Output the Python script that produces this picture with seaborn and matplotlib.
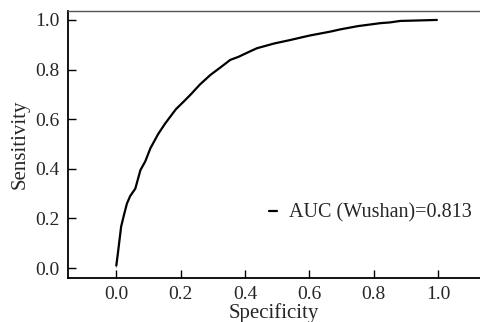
import matplotlib
matplotlib.use("Agg")
import matplotlib.pyplot as plt
import seaborn as sns
import pandas as pd

specificity = [0.0, 0.0, 0.005, 0.015, 0.025, 0.033, 0.043, 0.059, 0.075, 0.09, 0.106,
               0.13, 0.152, 0.185, 0.214, 0.23, 0.26, 0.292, 0.325, 0.354, 0.379, 0.41,
               0.437, 0.49, 0.54, 0.6, 0.665, 0.696, 0.75, 0.82, 0.85, 0.882, 0.94, 0.996]
sensitivity = [0.0, 0.02, 0.06, 0.167, 0.22, 0.26, 0.29, 0.32, 0.395, 0.43, 0.483,
               0.54, 0.583, 0.64, 0.677, 0.698, 0.74, 0.778, 0.81, 0.839, 0.851, 0.87,
               0.886, 0.905, 0.919, 0.937, 0.953, 0.962, 0.975, 0.987, 0.99, 0.996, 0.998, 1.0]
label = "AUC (Wushan)=0.813"

df = pd.DataFrame({"Specificity": specificity, "Sensitivity": sensitivity})

sns.set_style("white")
plt.rcParams["font.family"] = ["Liberation Serif", "DejaVu Serif"]

fig = plt.figure(figsize=(4.8, 3.22), dpi=100)
ax = fig.add_axes([0.1417, 0.1366, 0.8583, 0.8292])

sns.lineplot(data=df, x="Specificity", y="Sensitivity", ax=ax, color="black",
             linewidth=1.6, label=label, sort=False)

ax.set_xlim(-0.15, 1.13)
ax.set_ylim(-0.04, 1.036)
ax.set_xticks([0.0, 0.2, 0.4, 0.6, 0.8, 1.0])
ax.set_yticks([0.0, 0.2, 0.4, 0.6, 0.8, 1.0])
ax.set_xticklabels(["0.0", "0.2", "0.4", "0.6", "0.8", "1.0"])
ax.set_yticklabels(["0.0", "0.2", "0.4", "0.6", "0.8", "1.0"])
ax.tick_params(direction="in", length=6, width=1.0, color="black",
               labelsize=14, pad=6, bottom=True, left=True)
ax.set_xlabel("Specificity", fontsize=15, labelpad=0)
ax.set_ylabel("Sensitivity", fontsize=15, labelpad=4)

for s in ["left", "bottom"]:
    ax.spines[s].set_color("black")
    ax.spines[s].set_linewidth(1.3)
ax.spines["top"].set_color("#555555")
ax.spines["top"].set_linewidth(1.0)
ax.spines["right"].set_visible(False)

leg = ax.legend(loc="center right", bbox_to_anchor=(1.024, 0.243), frameon=False,
                handlelength=0.4, handletextpad=0.6, fontsize=14.5)

fig.savefig("out.png", dpi=100)
